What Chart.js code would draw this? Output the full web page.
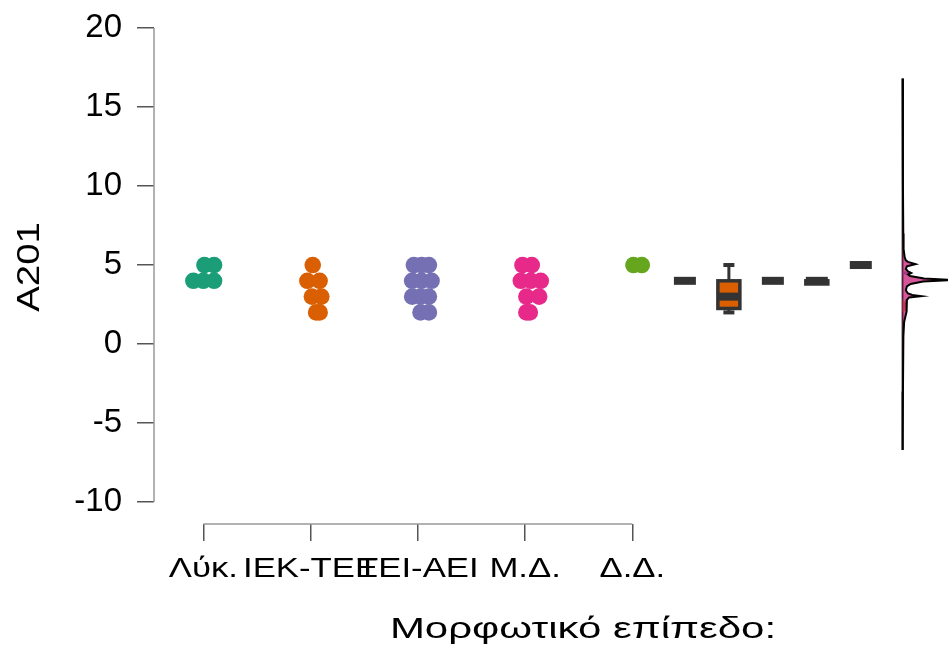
<!DOCTYPE html>
<html>
<head>
<meta charset="utf-8">
<title>A201 raincloud</title>
<script src="https://cdn.jsdelivr.net/npm/chart.js@4.4.1/dist/chart.umd.min.js"></script>
<style>
  html, body { margin: 0; padding: 0; background: #fff; overflow: hidden; }
  #wrap { width: 948px; height: 655px; position: relative; }
</style>
</head>
<body>
<div id="wrap"><canvas id="chart"></canvas></div>
<script>
// Categories and colours
const categories = ['Λύκ.', 'ΙΕΚ-ΤΕΕ', 'ΤΕΙ-ΑΕΙ', 'Μ.Δ.', 'Δ.Δ.'];
const groupColors = ['#1b9e77', '#d95f02', '#7570b3', '#e7298a', '#66a61e'];

// Points per group (value) and horizontal jitter (category units)
const lykValues = [5, 5, 4, 4, 4];
const lykJitter = [0.01, 0.10, -0.093, 0.00, 0.10];
const iekValues = [5, 4, 4, 3, 3, 2, 2];
const iekJitter = [0.02, -0.03, 0.084, 0.012, 0.10, 0.052, 0.084];
const teiValues = [5, 5, 5, 4, 4, 4, 3, 3, 3, 2, 2];
const teiJitter = [-0.037, 0.035, 0.103, -0.053, 0.035, 0.128, -0.053, 0.025, 0.103, 0.025, 0.103];
const mdValues = [5, 5, 4, 4, 4, 3, 3, 2, 2];
const mdJitter = [-0.025, 0.062, -0.04, 0.053, 0.146, 0.012, 0.131, 0.012, 0.044];
const ddValues = [5, 5];
const ddJitter = [0.01, 0.088];

// Box plot summaries per group
const boxQ1 = [4, 2.25, 4, 3.8, 5];
const boxMedian = [4, 3, 4, 4, 5];
const boxQ3 = [4, 4, 4, 4, 5];
const whiskerLow = [4, 2, 4, 3.8, 5];
const whiskerHigh = [4, 5, 4, 4, 5];

// Density (half violin) on the right: value and width in x units
const densityY = [16.8, 10, 7, 6, 5.5, 5.3, 5.2, 5.06, 4.92, 4.75, 4.6, 4.5, 4.4, 4.3, 4.15, 4.05, 3.95, 3.8, 3.65, 3.4, 3.2, 3.1, 3.03, 2.95, 2.8, 2.6, 2.3, 2.05, 1.8, 1.4, 0.5, -3, -6.7];
const densityW = [0, 0.003, 0.006, 0.009, 0.019, 0.03, 0.05, 0.12, 0.04, 0.03, 0.05, 0.08, 0.05, 0.07, 0.2, 0.47, 0.19, 0.075, 0.04, 0.03, 0.05, 0.09, 0.17, 0.06, 0.04, 0.037, 0.037, 0.037, 0.028, 0.014, 0.007, 0.003, 0];
const orangeY = [2.85, 2.6, 2.3, 2.1, 2.05];
const orangeW = [0, 0.03, 0.03, 0.03, 0];
const purpleY = [4.65, 4.5, 4.35];
const purpleW = [0, 0.06, 0];

const yTicks = [-10, -5, 0, 5, 10, 15, 20];

// Layout constants (x units)
const BOX_X0 = 5.49;
const BOX_DX = 0.41;
const DENSITY_X = 7.52;

const FONT = '"Liberation Sans", Arial, sans-serif';

function pointsFor(idx, values, jitter) {
    return values.map((v, i) => ({ x: idx + 1 + jitter[i], y: v }));
}

const groups = [
    [lykValues, lykJitter],
    [iekValues, iekJitter],
    [teiValues, teiJitter],
    [mdValues, mdJitter],
    [ddValues, ddJitter]
];

const dotSets = groups.map((g, i) => ({
    type: 'scatter',
    data: pointsFor(i, g[0], g[1]),
    backgroundColor: groupColors[i],
    borderWidth: 0,
    pointRadius: 8.3,
    pointHoverRadius: 8.3
}));

function shape(ys, ws, fillColor, lineColor, lineWidth) {
    return {
        type: 'line',
        data: ys.map((y, i) => ({ x: DENSITY_X + ws[i], y: y })),
        showLine: true,
        fill: 'shape',
        backgroundColor: fillColor,
        borderColor: lineColor,
        borderWidth: lineWidth,
        pointRadius: 0,
        tension: 0
    };
}

const densitySets = [
    shape(densityY, densityW, 'rgba(200, 30, 120, 0.75)', '#000', 2),
    shape(orangeY, orangeW, 'rgba(217, 95, 2, 0.85)', 'rgba(0,0,0,0)', 0),
    shape(purpleY, purpleW, 'rgba(90, 90, 170, 0.85)', 'rgba(0,0,0,0)', 0),
    {
        type: 'line',
        data: [{ x: DENSITY_X, y: densityY[0] }, { x: DENSITY_X, y: densityY[densityY.length - 1] }],
        borderColor: '#222',
        borderWidth: 2,
        pointRadius: 0,
        fill: false
    }
];

// draw text stretched horizontally around (x, y)
function wideText(ctx, text, x, y, sx) {
    ctx.save();
    ctx.translate(x, y);
    ctx.scale(sx, 1);
    ctx.fillText(text, 0, 0);
    ctx.restore();
}

// Box plots, axis lines, x labels and axis titles
const rainPlugin = {
    id: 'rainPlugin',
    afterDatasetsDraw(chart) {
        const ctx = chart.ctx;
        const xs = chart.scales.x;
        const ys = chart.scales.y;
        const half = 11;
        ctx.save();
        categories.forEach((c, i) => {
            const cx = xs.getPixelForValue(BOX_X0 + i * BOX_DX);
            const yQ1 = ys.getPixelForValue(boxQ1[i]);
            const yQ3 = ys.getPixelForValue(boxQ3[i]);
            const yMed = ys.getPixelForValue(boxMedian[i]);
            const yLo = ys.getPixelForValue(whiskerLow[i]);
            const yHi = ys.getPixelForValue(whiskerHigh[i]);
            ctx.strokeStyle = '#333';
            ctx.fillStyle = '#333';
            // whiskers
            ctx.lineWidth = 3;
            if (whiskerHigh[i] > boxQ3[i]) {
                ctx.beginPath(); ctx.moveTo(cx, yQ3); ctx.lineTo(cx, yHi); ctx.stroke();
                ctx.fillRect(cx - 5.5, yHi - 2, 11, 4);
            }
            if (whiskerLow[i] < boxQ1[i]) {
                ctx.beginPath(); ctx.moveTo(cx, yQ1); ctx.lineTo(cx, yLo); ctx.stroke();
                ctx.fillRect(cx - 5.5, yLo - 2, 11, 4);
            }
            // box
            if (boxQ3[i] > boxQ1[i]) {
                ctx.fillStyle = groupColors[i];
                ctx.fillRect(cx - half, yQ3, half * 2, yQ1 - yQ3);
                ctx.lineWidth = 3.5;
                ctx.strokeRect(cx - half, yQ3, half * 2, yQ1 - yQ3);
            }
            // median
            ctx.fillStyle = '#333';
            ctx.fillRect(cx - half, yMed - 4, half * 2, 8);
        });
        ctx.restore();
    },
    afterDraw(chart) {
        const ctx = chart.ctx;
        const xs = chart.scales.x;
        const ys = chart.scales.y;
        const area = chart.chartArea;
        ctx.save();
        ctx.strokeStyle = '#999';
        ctx.lineWidth = 1.5;
        // y axis range line
        ctx.beginPath();
        ctx.moveTo(area.left, ys.getPixelForValue(yTicks[yTicks.length - 1]));
        ctx.lineTo(area.left, ys.getPixelForValue(yTicks[0]));
        ctx.stroke();
        // x axis range line
        ctx.beginPath();
        ctx.moveTo(xs.getPixelForValue(1), area.bottom);
        ctx.lineTo(xs.getPixelForValue(categories.length), area.bottom);
        ctx.stroke();
        // category labels
        ctx.fillStyle = '#000';
        ctx.textAlign = 'center';
        ctx.textBaseline = 'alphabetic';
        ctx.font = '28px ' + FONT;
        categories.forEach((c, i) => {
            wideText(ctx, c, xs.getPixelForValue(i + 1), area.bottom + 53, 1.24);
        });
        // titles
        ctx.font = '30px ' + FONT;
        wideText(ctx, 'Μορφωτικό επίπεδο:', 583, 638, 1.4);
        ctx.font = '32px ' + FONT;
        ctx.textBaseline = 'middle';
        ctx.translate(30, 267);
        ctx.rotate(-Math.PI / 2);
        wideText(ctx, 'A201', 0, 0, 1.2);
        ctx.restore();
    }
};

new Chart(document.getElementById('chart'), {
    type: 'scatter',
    data: { datasets: dotSets.concat(densitySets) },
    options: {
        responsive: true,
        maintainAspectRatio: false,
        animation: false,
        layout: { autoPadding: false, padding: { top: 28, right: 0, bottom: 0, left: 0 } },
        plugins: {
            legend: { display: false },
            tooltip: { enabled: false }
        },
        scales: {
            x: {
                type: 'linear',
                min: 0.54,
                max: 7.943,
                border: { display: false },
                grid: { drawOnChartArea: false, drawTicks: true, tickLength: 17, color: '#555', lineWidth: 1.5 },
                afterBuildTicks: (scale) => { scale.ticks = categories.map((c, i) => ({ value: i + 1 })); },
                afterFit: (scale) => {
                    scale.height = 131;
                    scale.paddingLeft = 0;
                    scale.paddingRight = 0;
                },
                ticks: { display: false, autoSkip: false, maxRotation: 0 }
            },
            y: {
                type: 'linear',
                min: -11.39,
                max: 20,
                border: { display: false },
                grid: { drawOnChartArea: false, drawTicks: true, tickLength: 17, color: '#555', lineWidth: 1.5 },
                afterBuildTicks: (scale) => { scale.ticks = yTicks.map(v => ({ value: v })); },
                afterFit: (scale) => {
                    scale.width = 154;
                    scale.paddingTop = 0;
                    scale.paddingBottom = 0;
                },
                ticks: {
                    padding: 15,
                    color: '#000',
                    font: { family: FONT, size: 33 }
                }
            }
        }
    },
    plugins: [rainPlugin]
});
</script>
</body>
</html>
